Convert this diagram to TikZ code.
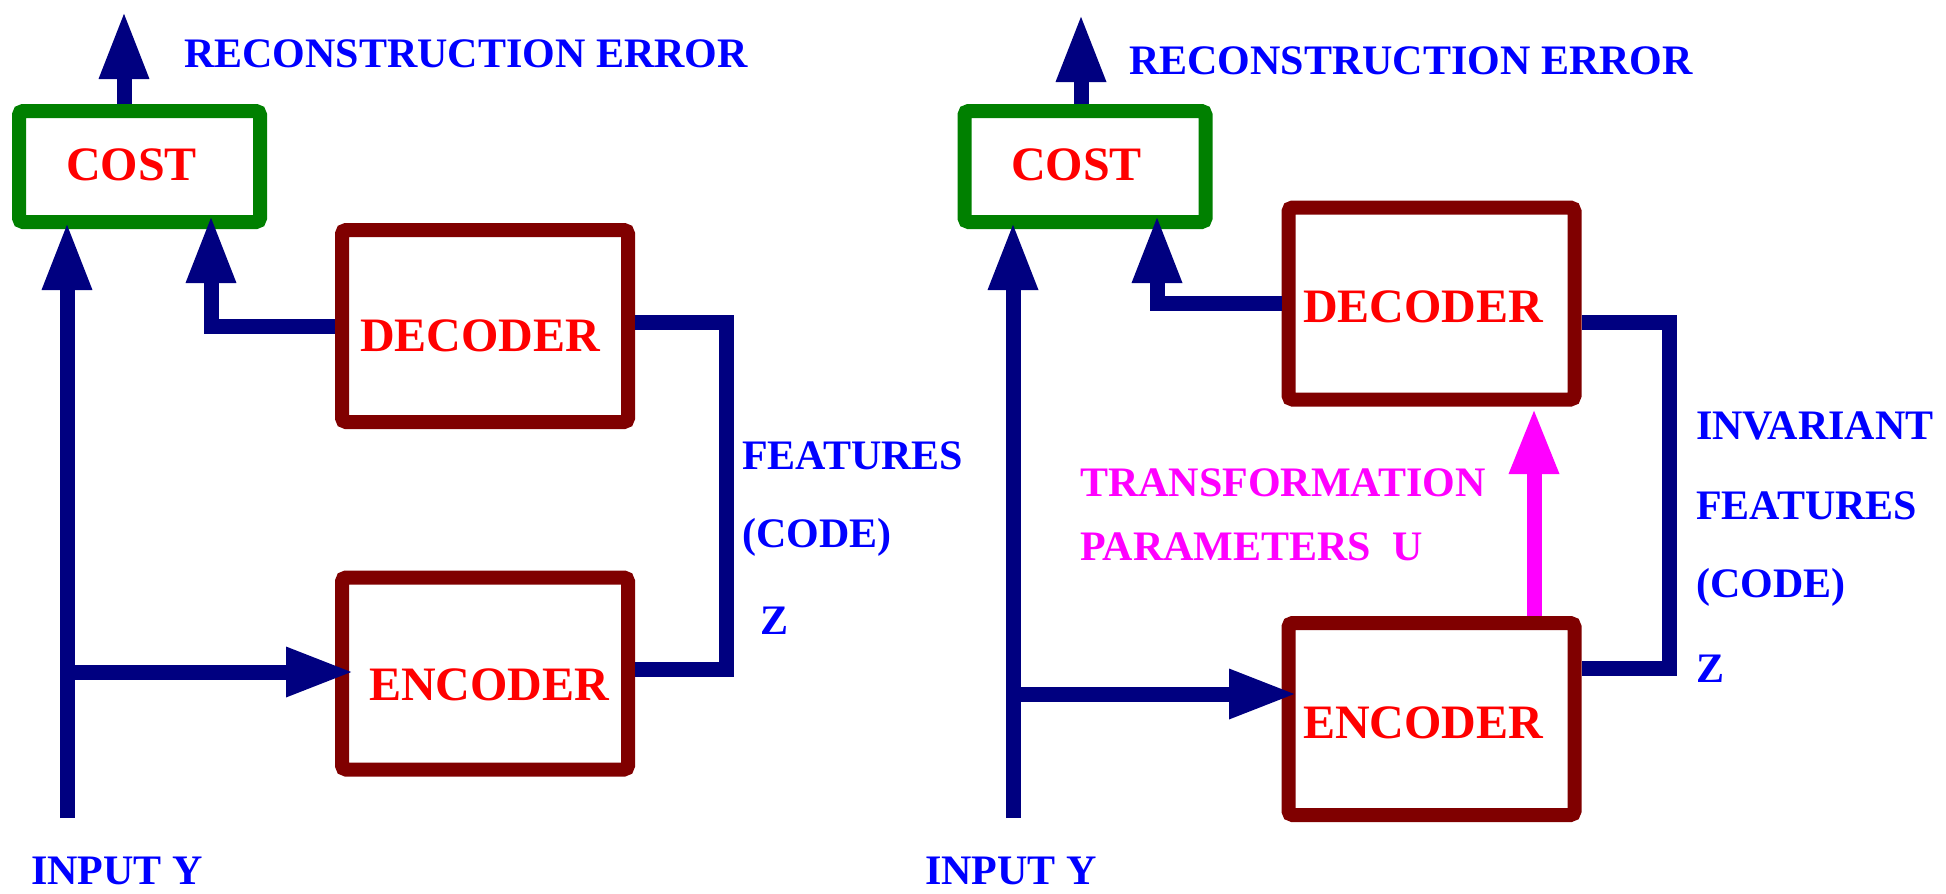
\documentclass[tikz,border=0pt]{standalone}
\usepackage{fontspec}
\setmainfont{Liberation Serif}
\usetikzlibrary{arrows.meta}
\definecolor{mynavy}{RGB}{0,0,128}
\definecolor{mymaroon}{RGB}{128,0,0}
\definecolor{mygreen}{RGB}{0,128,0}
\definecolor{myblue}{RGB}{0,0,255}
\definecolor{myred}{RGB}{255,0,0}
\definecolor{mymagenta}{RGB}{255,0,255}
\tikzset{
  costbox/.style={draw=mygreen, line width=14pt, rounded corners=4pt, minimum width=241pt, minimum height=111pt, inner sep=0pt},
  codebox/.style={draw=mymaroon, line width=14pt, rounded corners=4pt, minimum width=286pt, minimum height=192pt, inner sep=0pt},
  wire/.style={draw=mynavy, line width=15pt},
  arr/.style={wire, -{Triangle[length=68pt,width=46pt]}},
  marr/.style={draw=mymagenta, line width=15pt, -{Triangle[length=66pt,width=46pt]}},
  boxlabel/.style={text=myred, font=\fontsize{48}{56}\selectfont\bfseries, inner sep=0pt, anchor=base west},
  bluelabel/.style={text=myblue, font=\fontsize{42}{50}\selectfont\bfseries, inner sep=0pt, anchor=base west},
  maglabel/.style={text=mymagenta, font=\fontsize{42}{50}\selectfont\bfseries, inner sep=0pt, anchor=base west}
}
\begin{document}
\begin{tikzpicture}[x=1pt, y=-1pt]
\useasboundingbox (0,0) rectangle (1946,894);
% ---------------- left panel ----------------
\node[costbox] (costL) at (139.5,166.5) {};
\node[codebox] (decL) at (485,326) {};
\node[codebox] (encL) at (485,673.5) {};
\node[boxlabel] (costLt) at (66,180) {COST};
\node[boxlabel] (decLt) at (360,351) {DECODER};
\node[boxlabel] (encLt) at (369,700) {ENCODER};
\coordinate (errL) at (124,11);
\coordinate (inL) at (67,818);
\coordinate (inLtip) at (67,222);
\coordinate (recLtip) at (211,215);
\coordinate (encLtip) at (354,672);
\coordinate (zLtop) at (726,322);
\coordinate (zLbot) at (726,669);
\draw[arr] (errL |- costL.north) -- (errL);
\draw[arr] (inL) -- (inLtip);
\draw[arr] (decL.west) -| (recLtip);
\draw[arr] (inL |- encLtip) -- (encLtip);
\draw[wire] (zLtop -| decL.east) -- (zLtop) -- (zLbot) -- (zLbot -| encL.east);
\node[bluelabel] (errLt) at (184,67) {RECONSTRUCTION ERROR};
\node[bluelabel] (featL) at (742,469) {FEATURES};
\node[bluelabel] (codeL) at (742,547) {(CODE)};
\node[bluelabel] (zL) at (760,634) {Z};
\node[bluelabel] (inLt) at (31,884) {INPUT Y};
% ---------------- right panel ----------------
\node[costbox] (costR) at (1085,166.5) {};
\node[codebox] (decR) at (1431.5,303.5) {};
\node[codebox] (encR) at (1431.5,719) {};
\node[boxlabel] (costRt) at (1011,180) {COST};
\node[boxlabel] (decRt) at (1303,322) {DECODER};
\node[boxlabel] (encRt) at (1303,738) {ENCODER};
\coordinate (errR) at (1081,14);
\coordinate (inR) at (1013,818);
\coordinate (inRtip) at (1013,222);
\coordinate (recRtip) at (1157,215);
\coordinate (encRtip) at (1297,694);
\coordinate (zRtop) at (1669,322);
\coordinate (zRbot) at (1669,668);
\coordinate (mtip) at (1534,408);
\draw[arr] (errR |- costR.north) -- (errR);
\draw[arr] (inR) -- (inRtip);
\draw[arr] (decR.west) -| (recRtip);
\draw[arr] (inR |- encRtip) -- (encRtip);
\draw[wire] (zRtop -| decR.east) -- (zRtop) -- (zRbot) -- (zRbot -| encR.east);
\draw[marr] (mtip |- encR.north) -- (mtip);
\node[bluelabel] (errRt) at (1129,74) {RECONSTRUCTION ERROR};
\node[bluelabel] (invR) at (1696,439) {INVARIANT};
\node[bluelabel] (featR) at (1696,519) {FEATURES};
\node[bluelabel] (codeR) at (1696,597) {(CODE)};
\node[bluelabel] (zR) at (1696,682) {Z};
\node[maglabel] (trR) at (1080,496) {TRANSFORMATION};
\node[maglabel] (parR) at (1080,560) {PARAMETERS\ \ U};
\node[bluelabel] (inRt) at (925,884) {INPUT Y};
\end{tikzpicture}
\end{document}
